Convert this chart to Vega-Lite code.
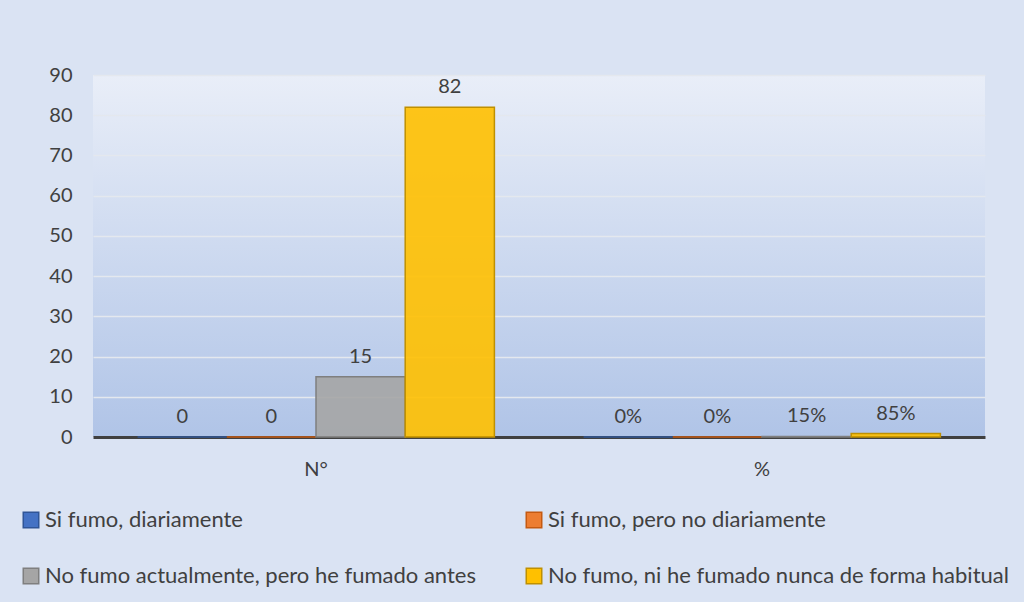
{
  "$schema": "https://vega.github.io/schema/vega-lite/v6.json",
  "autosize": "none",
  "width": 892,
  "height": 362,
  "padding": {"left": 93, "top": 75, "right": 39, "bottom": 165},
  "background": "#dae3f3",
  "config": {
    "view": {
      "stroke": null,
      "fill": {"gradient": "linear", "x1": 0, "y1": 0, "x2": 0, "y2": 1, "stops": [{"offset": 0, "color": "#e9eef8"}, {"offset": 1, "color": "#b0c4e7"}]}
    },
    "font": "Lato",
    "axis": {"labelFont": "Lato", "labelColor": "#404040", "labelFontSize": 20, "titleFont": "Lato"},
    "legend": {"labelFont": "Lato"}
  },
  "data": {
    "values": [
      {"grupo": "N°", "categoria": "Si fumo, diariamente", "valor": 0, "etiqueta": "0"},
      {"grupo": "N°", "categoria": "Si fumo, pero no diariamente", "valor": 0, "etiqueta": "0"},
      {"grupo": "N°", "categoria": "No fumo actualmente, pero he fumado antes", "valor": 15, "etiqueta": "15"},
      {"grupo": "N°", "categoria": "No fumo, ni he fumado nunca de forma habitual", "valor": 82, "etiqueta": "82"},
      {"grupo": "%", "categoria": "Si fumo, diariamente", "valor": 0, "etiqueta": "0%"},
      {"grupo": "%", "categoria": "Si fumo, pero no diariamente", "valor": 0, "etiqueta": "0%"},
      {"grupo": "%", "categoria": "No fumo actualmente, pero he fumado antes", "valor": 0.15, "etiqueta": "15%"},
      {"grupo": "%", "categoria": "No fumo, ni he fumado nunca de forma habitual", "valor": 0.85, "etiqueta": "85%"}
    ]
  },
  "encoding": {
    "x": {
      "field": "grupo", "type": "nominal", "sort": ["N°", "%"], "title": null,
      "scale": {"paddingInner": 0.2, "paddingOuter": 0.1},
      "axis": {"labelAngle": 0, "domainColor": "#404040", "domainWidth": 3, "ticks": false, "labelPadding": 22, "grid": false}
    },
    "xOffset": {
      "field": "categoria", "type": "nominal",
      "sort": ["Si fumo, diariamente", "Si fumo, pero no diariamente", "No fumo actualmente, pero he fumado antes", "No fumo, ni he fumado nunca de forma habitual"]
    },
    "y": {
      "field": "valor", "type": "quantitative", "title": null,
      "scale": {"domain": [0, 90]},
      "axis": {"values": [0, 10, 20, 30, 40, 50, 60, 70, 80, 90], "domain": false, "ticks": false, "labelPadding": 21, "gridColor": "#e4e8ee", "gridWidth": 1.5}
    }
  },
  "layer": [
    {
      "mark": {"type": "bar", "strokeWidth": 1.5, "fillOpacity": 0.9},
      "encoding": {
        "color": {
          "field": "categoria", "type": "nominal",
          "sort": ["Si fumo, diariamente", "Si fumo, pero no diariamente", "No fumo actualmente, pero he fumado antes", "No fumo, ni he fumado nunca de forma habitual"],
          "scale": {
            "domain": ["Si fumo, diariamente", "Si fumo, pero no diariamente", "No fumo actualmente, pero he fumado antes", "No fumo, ni he fumado nunca de forma habitual"],
            "range": ["#4472c4", "#ed7d31", "#a5a5a5", "#ffc000"]
          },
          "legend": {
            "title": null, "orient": "none", "legendX": -73, "legendY": 434,
            "direction": "horizontal", "columns": 2, "columnPadding": 47, "rowPadding": 34,
            "symbolType": "square", "symbolSize": 240, "symbolStrokeWidth": 1.5, "symbolOffset": 0,
            "labelFontSize": 22, "labelColor": "#404040", "labelLimit": 600, "labelOffset": 3
          }
        },
        "stroke": {
          "field": "categoria", "type": "nominal",
          "scale": {
            "domain": ["Si fumo, diariamente", "Si fumo, pero no diariamente", "No fumo actualmente, pero he fumado antes", "No fumo, ni he fumado nunca de forma habitual"],
            "range": ["#2f5597", "#c55a11", "#7f7f7f", "#bf9000"]
          },
          "legend": null
        }
      }
    },
    {
      "mark": {"type": "text", "baseline": "bottom", "dy": -10, "fontSize": 20, "color": "#404040"},
      "encoding": {"text": {"field": "etiqueta"}}
    }
  ]
}
